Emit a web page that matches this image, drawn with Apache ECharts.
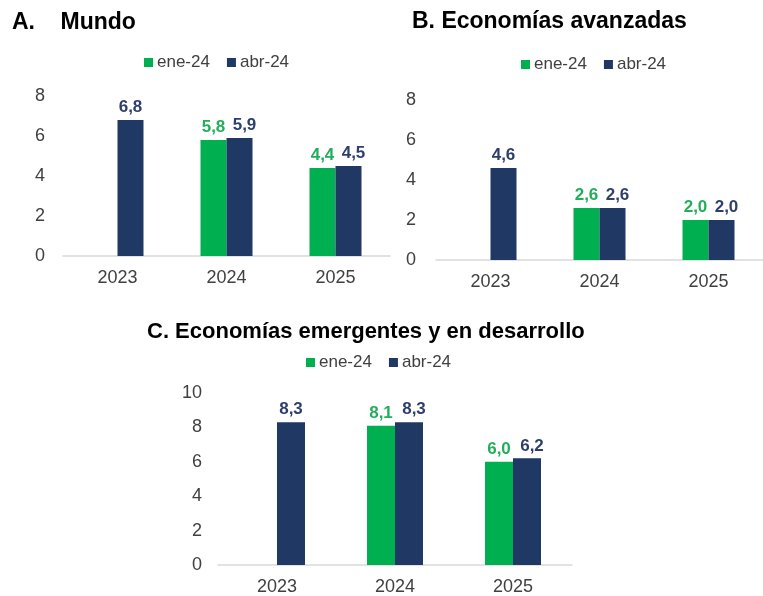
<!DOCTYPE html>
<html>
<head>
<meta charset="utf-8">
<script src="https://cdn.jsdelivr.net/npm/echarts@6/dist/echarts.min.js"></script>
<style>
  html, body { margin: 0; padding: 0; background: #ffffff; }
  #chart { width: 763px; height: 596px; }
</style>
</head>
<body>
<div id="chart"></div>
<script>
// Growth projections by vintage (ene-24 vs abr-24)
const years = ['2023', '2024', '2025'];
const seriesNames = ['ene-24', 'abr-24'];

const mundoEne = [null, 5.8, 4.4];
const mundoAbr = [6.8, 5.9, 4.5];

const avanzadasEne = [null, 2.6, 2.0];
const avanzadasAbr = [4.6, 2.6, 2.0];

const emergentesEne = [null, 8.1, 6.0];
const emergentesAbr = [8.3, 8.3, 6.2];

const panelTitles = ['A.    Mundo', 'B. Economías avanzadas', 'C. Economías emergentes y en desarrollo'];
const yMax = [8, 8, 10];

const GREEN = '#00B050';
const NAVY = '#1F3864';
const FONT = '"Liberation Sans", Arial, sans-serif';

const panels = [
  { grid: { left: 63, top: 96, width: 327, height: 160 }, legend: { left: 144, top: 54 }, title: { left: 12, top: 11, size: 23 }, labelMargin: 18, barWidth: 26, ene: mundoEne, abr: mundoAbr },
  { grid: { left: 436, top: 100, width: 336, height: 160 }, legend: { left: 521, top: 56 }, title: { left: 412, top: 10, size: 23 }, labelMargin: 20, barWidth: 26, ene: avanzadasEne, abr: avanzadasAbr },
  { grid: { left: 218, top: 393, width: 354, height: 172 }, legend: { left: 306, top: 354 }, title: { left: 147, top: 321, size: 22 }, labelMargin: 16, barWidth: 28, ene: emergentesEne, abr: emergentesAbr }
];

const fmt = p => p.value == null ? '' : p.value.toFixed(1).replace('.', ',');

// When both vintages are shown side by side, nudge the abr-24 label right so the pair reads apart
const abrItems = (abr, ene) => abr.map((v, k) =>
  ene[k] == null ? v : { value: v, label: { offset: [5, 0] } });

const option = {
  animation: false,
  backgroundColor: '#ffffff',
  textStyle: { fontFamily: FONT },
  title: panels.map((p, i) => ({
    text: panelTitles[i],
    left: p.title.left, top: p.title.top, padding: 0,
    textStyle: { fontFamily: FONT, fontSize: p.title.size, fontWeight: 'bold', color: '#000000' }
  })),
  legend: panels.map(p => ({
    data: seriesNames,
    left: p.legend.left, top: p.legend.top, padding: 0,
    itemWidth: 9, itemHeight: 9, itemGap: 17,
    icon: 'rect',
    textStyle: { fontFamily: FONT, fontSize: 17, color: '#404040', padding: [0, 0, 0, -1] },
    selectedMode: false
  })),
  grid: panels.map(p => Object.assign({ containLabel: false }, p.grid)),
  xAxis: panels.map((p, i) => ({
    type: 'category', gridIndex: i, data: years,
    axisTick: { show: false },
    axisLine: { lineStyle: { color: '#d9d9d9', width: 1.5 } },
    axisLabel: { fontFamily: FONT, fontSize: 18, color: '#404040', margin: 13 }
  })),
  yAxis: panels.map((p, i) => ({
    type: 'value', gridIndex: i, min: 0, max: yMax[i], interval: 2,
    splitLine: { show: false },
    axisLine: { show: false }, axisTick: { show: false },
    axisLabel: { fontFamily: FONT, fontSize: 18, color: '#404040', margin: p.labelMargin }
  })),
  series: panels.flatMap((p, i) => [
    {
      name: seriesNames[0], type: 'bar', xAxisIndex: i, yAxisIndex: i,
      data: p.ene, barWidth: p.barWidth, barGap: '0%',
      itemStyle: { color: GREEN },
      label: { show: true, position: 'top', distance: 4, formatter: fmt, fontFamily: FONT, fontSize: 17, fontWeight: 'bold', color: '#22AE5A' }
    },
    {
      name: seriesNames[1], type: 'bar', xAxisIndex: i, yAxisIndex: i,
      data: abrItems(p.abr, p.ene), barWidth: p.barWidth, barGap: '0%',
      itemStyle: { color: NAVY },
      label: { show: true, position: 'top', distance: 4, formatter: fmt, fontFamily: FONT, fontSize: 17, fontWeight: 'bold', color: '#2E3F6E' }
    }
  ])
};

const chart = echarts.init(document.getElementById('chart'), null, { renderer: 'canvas' });
chart.setOption(option);
</script>
</body>
</html>
